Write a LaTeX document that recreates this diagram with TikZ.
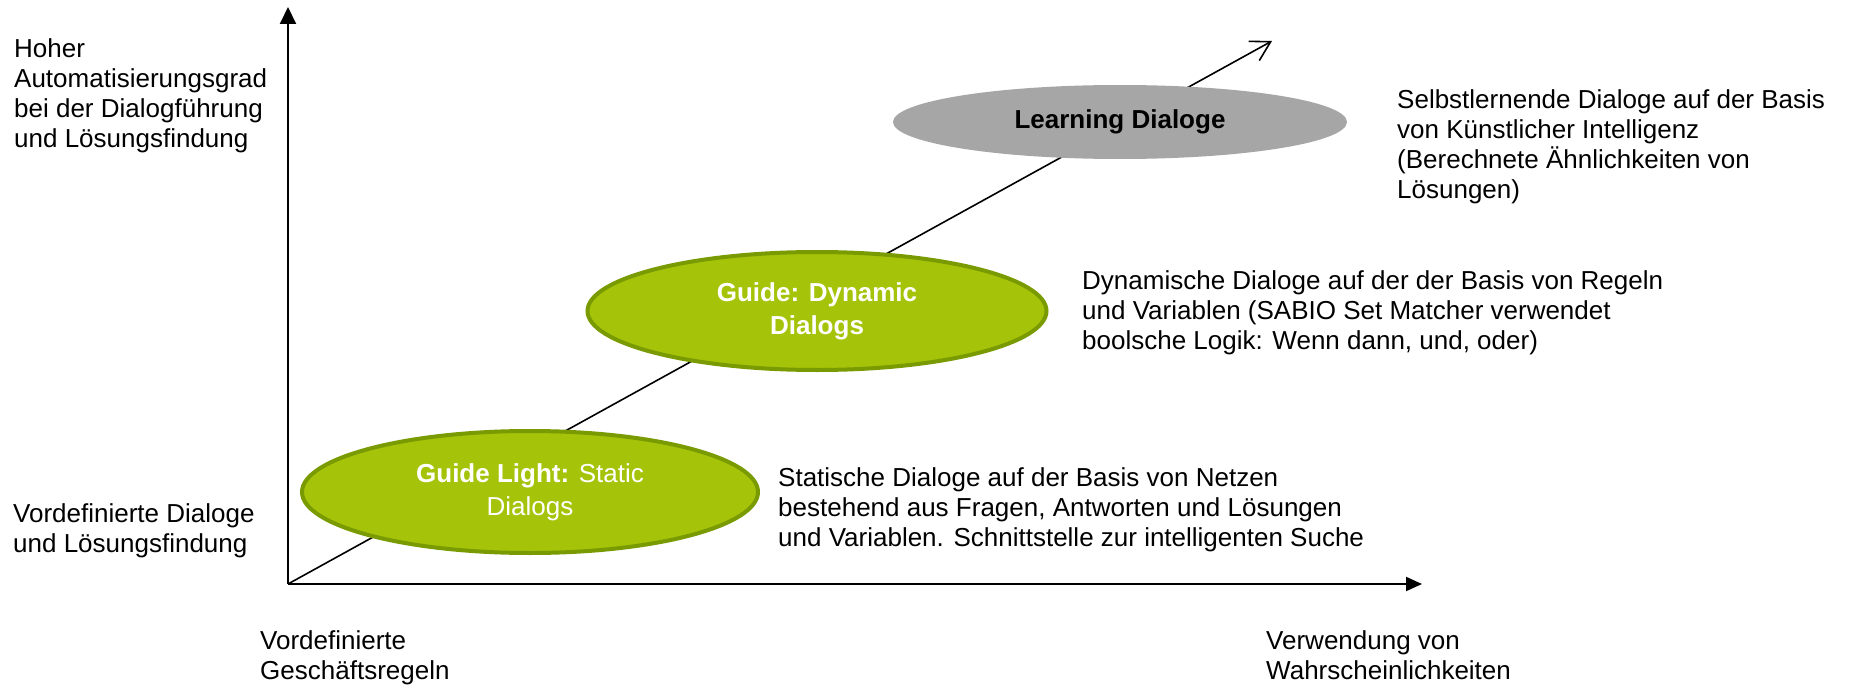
\documentclass[tikz,border=0pt]{standalone}
\usepackage{fontspec}
\setmainfont{Liberation Sans}
\usetikzlibrary{arrows.meta,shapes.geometric}
\definecolor{lime}{HTML}{A5C309}
\definecolor{limedark}{HTML}{7A9A01}
\definecolor{greyfill}{HTML}{A6A6A6}
\begin{document}
\begin{tikzpicture}[x=1pt,y=-1pt,
  lbl/.style={anchor=base west,align=left,inner sep=0pt,font=\fontsize{26}{30}\selectfont},
  greenov/.style={ellipse,fill=lime,draw=limedark,line width=4pt,inner sep=0pt,
     text=white,align=center,font=\fontsize{26}{33}\selectfont},
  greyov/.style={ellipse,fill=greyfill,inner sep=0pt,align=center,
     font=\fontsize{26}{33}\selectfont\bfseries},
  axis/.style={line width=2pt},
  diag/.style={line width=1.6pt}]
\useasboundingbox (0,0) rectangle (1850,690);
\coordinate (O) at (288,584);
\coordinate (Ytop) at (288,7);
\coordinate (Xend) at (1422,584);
\coordinate (Dend) at (1272,41);
% diagonal
\draw[diag,-{Straight Barb[length=19pt,width=22pt,line width=1.6pt]}] (O) -- (Dend);
% axes
\draw[axis,-{Triangle[length=17pt,width=16pt]}] (O) -- (Ytop);
\draw[axis,-{Triangle[length=16pt,width=14pt]}] (O) -- (Xend);
% ellipses
\node[greyov,minimum width=454pt,minimum height=74pt] (learn) at (1120,122) {Learning Dialoge};
\node[greenov,minimum width=459pt,minimum height=118pt] (dyn) at (817,311) {\bfseries Guide: Dynamic\\\bfseries Dialogs};
\node[greenov,minimum width=456pt,minimum height=122pt] (light) at (530,492) {\textbf{Guide Light:} Static\\Dialogs};
% labels (base = baseline of last line)
\node[lbl] (ytoplbl) at (14,148) {Hoher\\Automatisierungsgrad\\bei der Dialogführung\\und Lösungsfindung};
\node[lbl] (ybotlbl) at (13,552) {Vordefinierte Dialoge\\und Lösungsfindung};
\node[lbl] (xleftlbl) at (260,679) {Vordefinierte\\Geschäftsregeln};
\node[lbl] (xrightlbl) at (1266,679) {Verwendung von\\Wahrscheinlichkeiten};
\node[lbl] (learntxt) at (1397,198) {Selbstlernende Dialoge auf der Basis\\von Künstlicher Intelligenz\\(Berechnete Ähnlichkeiten von\\Lösungen)};
\node[lbl] (dyntxt) at (1082,349) {Dynamische Dialoge auf der der Basis von Regeln\\und Variablen (SABIO Set Matcher verwendet\\boolsche Logik: Wenn dann, und, oder)};
\node[lbl] (lighttxt) at (778,546) {Statische Dialoge auf der Basis von Netzen\\bestehend aus Fragen, Antworten und Lösungen\\und Variablen. Schnittstelle zur intelligenten Suche};
\end{tikzpicture}
\end{document}
